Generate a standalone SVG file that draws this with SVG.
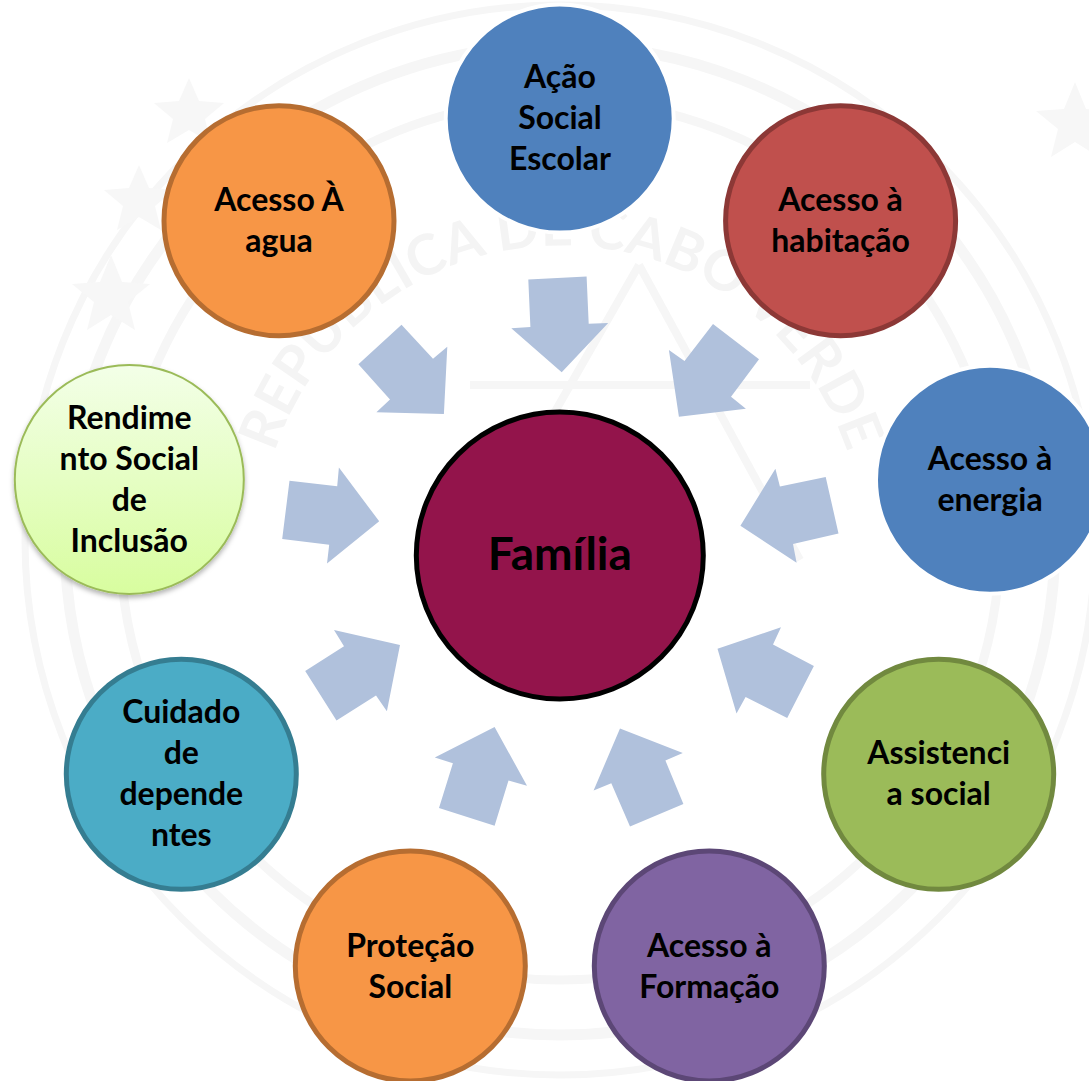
<svg xmlns="http://www.w3.org/2000/svg" width="1089" height="1081" viewBox="0 0 1089 1081">
<style>
.ring{fill:none;stroke:#f6f6f6}
.wm{fill:#f7f7f7}
.wt{font-family:"Lato","Liberation Sans",sans-serif;font-weight:700;font-size:56px;fill:#f4f4f4}
.ar{fill:#b0c1dc}
text.l{font-family:"Lato","Liberation Sans",sans-serif;font-weight:700;font-size:32px;fill:#000;text-anchor:middle}
.c{stroke-width:5}
</style>
<defs>
<linearGradient id="g" x1="0" y1="0" x2="0" y2="1"><stop offset="0" stop-color="#f3ffe8"/><stop offset="1" stop-color="#d8fd9f"/></linearGradient>
<filter id="s" x="-10%" y="-10%" width="120%" height="120%"><feDropShadow dx="0" dy="3" stdDeviation="2.5" flood-color="#000" flood-opacity=".3"/></filter>
<path id="tp" d="M262 590A302 302 0 1 1 860 590"/>
</defs>
<rect width="1089" height="1081" fill="#fff"/>
<g id="watermark">
<circle class="ring" cx="560" cy="540" r="440" stroke-width="9"/>
<circle class="ring" cx="560" cy="540" r="495" stroke-width="11"/>
<circle class="ring" cx="560" cy="540" r="535" stroke-width="7"/>
<path class="ring" stroke-width="8" d="M639 265L470 560M639 265L800 560M470 385H810"/>
<polygon class="wm" points="111,255 122,282 150,284 128,302 135,330 111,315 87,330 94,302 72,284 100,282"/>
<polygon class="wm" points="139,165 149,188 174,190 155,206 161,230 139,217 117,230 123,206 104,190 129,188"/>
<polygon class="wm" points="189,78 199,101 224,103 205,119 211,143 189,130 167,143 173,119 154,103 179,101"/>
<polygon class="wm" points="1075,82 1086,109 1114,111 1092,129 1099,157 1075,142 1051,157 1058,129 1036,111 1064,109"/>
<text class="wt"><textPath href="#tp" startOffset="50%" text-anchor="middle">REPÚBLICA DE CABO VERDE</textPath></text>
</g>
<g id="connectors">
<polygon class="ar" points="528.3,279.6 586.6,276.5 588.7,323.7 608.2,323 561.7,372.3 511.3,328.2 530.4,327"/>
<polygon class="ar" points="713,324 759,359.2 731,396.7 745.9,408.8 678.9,416.7 668.9,349.9 684.5,360.9"/>
<polygon class="ar" points="825.7,477 838.5,533.4 793,544 796.6,562.8 740.4,525.8 775.4,468.7 779.9,486.6"/>
<polygon class="ar" points="781,627.3 773,644.6 813.9,666 787.2,718 745.6,697 736.5,713.6 717.5,648.7"/>
<polygon class="ar" points="620,728.4 682.8,752.9 665.4,760.5 683.4,804 630,826.4 611.3,783.3 593.6,790.5"/>
<polygon class="ar" points="494.6,727 527,785.7 508.5,780.5 494.6,825.7 439,808 452.9,763.3 434.8,757.4"/>
<polygon class="ar" points="334,630 400,644.9 386.9,711.2 376,695.6 336.5,720.5 305.2,671 344,646.3"/>
<polygon class="ar" points="289.5,480.7 337.2,486.2 338.9,467.6 379.2,521.3 327,563.5 329.2,544.8 282.2,539"/>
<polygon class="ar" points="401.5,324.7 433,358.8 447.3,346.8 443.9,413.9 376.4,412.2 390,399.5 358.4,364.3"/>
</g>
<g id="n-acao"><circle cx="559.7" cy="118.5" r="114" fill="#4f81bd" stroke="#fff" stroke-width="4"/>
<text class="l" x="560" y="88">Ação</text><text class="l" x="560" y="129">Social</text><text class="l" x="560" y="170">Escolar</text></g>
<g id="n-habitacao"><circle class="c" cx="840.6" cy="220.7" r="115" fill="#c0504d" stroke="#8c3836"/>
<text class="l" x="840.6" y="211">Acesso à</text><text class="l" x="840.6" y="252">habitação</text></g>
<g id="n-energia"><circle cx="990" cy="479.8" r="114" fill="#4f81bd" stroke="#fff" stroke-width="4"/>
<text class="l" x="990" y="470">Acesso à</text><text class="l" x="990" y="511">energia</text></g>
<g id="n-assistencia"><circle class="c" cx="938.7" cy="774.3" r="115" fill="#9bbb59" stroke="#71893f"/>
<text class="l" x="938.7" y="764">Assistenci</text><text class="l" x="938.7" y="805">a social</text></g>
<g id="n-formacao"><circle class="c" cx="709.3" cy="966" r="115" fill="#8064a2" stroke="#5c4776"/>
<text class="l" x="709.3" y="957">Acesso à</text><text class="l" x="709.3" y="998">Formação</text></g>
<g id="n-protecao"><circle class="c" cx="410.3" cy="966" r="115" fill="#f79646" stroke="#b66d31"/>
<text class="l" x="410.3" y="957">Proteção</text><text class="l" x="410.3" y="998">Social</text></g>
<g id="n-cuidado"><circle class="c" cx="181.3" cy="774.3" r="115" fill="#4bacc6" stroke="#357d91"/>
<text class="l" x="181.3" y="723">Cuidado</text><text class="l" x="181.3" y="764">de</text><text class="l" x="181.3" y="805">depende</text><text class="l" x="181.3" y="846">ntes</text></g>
<g id="n-rendimento"><circle cx="129.3" cy="479.4" r="114.5" fill="url(#g)" stroke="#9bbb59" stroke-width="2" filter="url(#s)"/>
<text class="l" x="129.3" y="429">Rendime</text><text class="l" x="129.3" y="470">nto Social</text><text class="l" x="129.3" y="511">de</text><text class="l" x="129.3" y="552">Inclusão</text></g>
<g id="n-agua"><circle class="c" cx="279" cy="220.7" r="115" fill="#f79646" stroke="#b66d31"/>
<text class="l" x="279" y="211">Acesso À</text><text class="l" x="279" y="252">agua</text></g>
<g id="n-familia"><circle cx="559.8" cy="555.6" r="143.5" fill="#93144b" stroke="#000" stroke-width="5"/>
<text class="l" x="559.8" y="570" style="font-size:46px">Família</text></g>
</svg>
